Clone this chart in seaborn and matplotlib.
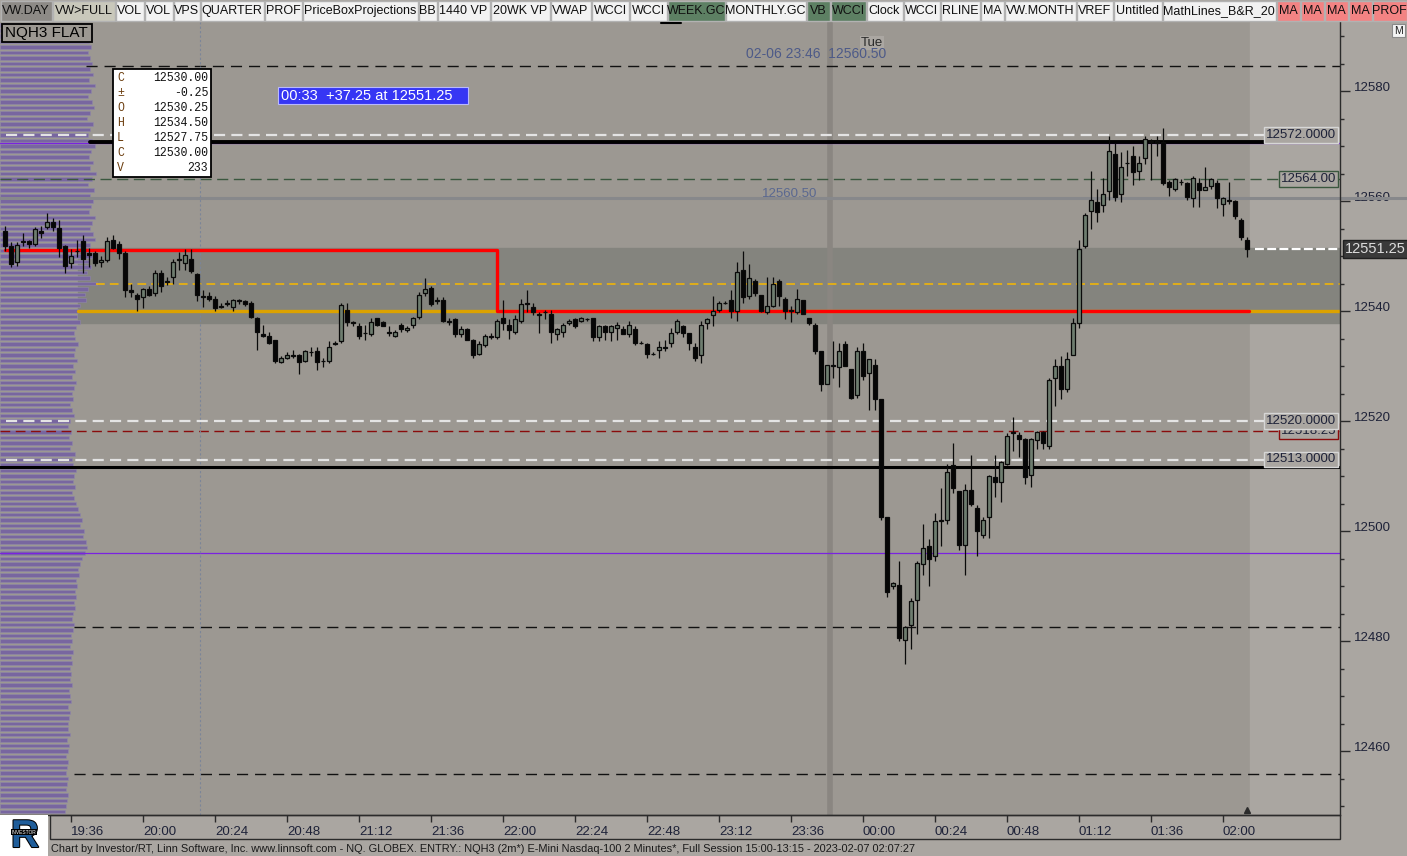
import numpy as np
import pandas as pd
import matplotlib
matplotlib.use("Agg")
import matplotlib.pyplot as plt
import matplotlib.transforms as mtransforms
from matplotlib.patches import Rectangle
from matplotlib.ticker import MultipleLocator, FuncFormatter
from matplotlib import patheffects
import seaborn as sns

# ---------------- data (NQH3, 2 minute bars) ----------------
bar_start = "2023-02-06 19:14"

opens = [
    12554.5, 12551.75, 12549.0, 12552.5, 12552.75, 12552.25, 12554.5, 12555.25, 12556.25, 12555.0,
    12551.75, 12548.75, 12551.0, 12552.75, 12550.5, 12550.5, 12549.0, 12549.25, 12553.0, 12552.25,
    12550.5, 12543.75, 12543.0, 12542.5, 12544.0, 12543.25, 12547.0, 12545.25, 12546.25, 12549.5,
    12548.75, 12549.5, 12546.75, 12542.75, 12542.75, 12542.25, 12541.0, 12541.5, 12540.75, 12541.75,
    12541.75, 12541.5, 12538.75, 12535.75, 12535.5, 12534.75, 12530.75, 12531.5, 12532.0, 12532.0,
    12531.0, 12532.5, 12532.75, 12531.0, 12531.0, 12534.0, 12534.5, 12540.25, 12538.0, 12537.25,
    12536.0, 12535.75, 12538.75, 12538.0, 12536.25, 12535.5, 12537.5, 12536.5, 12537.5, 12539.0,
    12543.25, 12544.25, 12541.75, 12542.0, 12538.0, 12538.5, 12535.75, 12536.75, 12534.75, 12532.25,
    12533.75, 12535.5, 12535.25, 12538.75, 12537.5, 12536.25, 12538.25, 12541.5, 12540.75, 12539.25,
    12539.75, 12539.5, 12535.75, 12536.25, 12537.75, 12538.5, 12538.25, 12538.5, 12538.75, 12535.25,
    12537.25, 12536.25, 12537.0, 12536.75, 12535.75, 12536.75, 12534.25, 12534.0, 12532.25, 12533.0,
    12533.5, 12534.25, 12536.25, 12537.25, 12536.0, 12533.5, 12532.0, 12537.75, 12539.25, 12540.25,
    12541.5, 12542.0, 12540.0, 12547.5, 12542.75, 12545.5, 12543.0, 12539.75, 12541.0, 12545.5,
    12542.25, 12540.0, 12539.75, 12542.0, 12538.75, 12537.5, 12532.75, 12526.75, 12530.25, 12529.75,
    12534.0, 12529.5, 12524.75, 12532.75, 12528.75, 12530.25, 12524.0, 12502.5, 12490.0, 12490.25,
    12480.25, 12483.0, 12487.5, 12494.0, 12497.25, 12495.5, 12501.75, 12502.0, 12512.0, 12507.25,
    12497.5, 12507.5, 12504.25, 12499.25, 12502.5, 12509.75, 12509.0, 12512.25, 12518.0, 12517.5,
    12516.75, 12510.25, 12516.5, 12518.0, 12515.5, 12527.75, 12530.0, 12525.75, 12532.0, 12537.75,
    12551.75, 12558.25, 12559.75, 12559.25, 12561.75, 12568.5, 12561.25, 12567.0, 12568.25, 12565.5,
    12567.75, 12571.0, 12571.0, 12570.75, 12563.5, 12562.25, 12563.5, 12563.25, 12560.5, 12563.25,
    12562.0, 12562.75, 12563.25, 12559.5, 12560.25, 12560.0, 12556.5, 12553.0,
]
highs = [
    12555.5, 12552.5, 12552.5, 12554.25, 12553.0, 12555.25, 12555.5, 12557.75, 12557.0, 12556.5,
    12552.0, 12551.25, 12553.0, 12553.75, 12551.5, 12551.0, 12550.0, 12553.5, 12553.75, 12552.75,
    12551.0, 12545.0, 12543.25, 12544.25, 12544.5, 12547.5, 12547.5, 12546.25, 12549.5, 12550.75,
    12551.25, 12551.25, 12547.0, 12543.75, 12543.5, 12542.75, 12541.5, 12542.0, 12542.25, 12542.25,
    12542.0, 12541.75, 12539.0, 12537.5, 12536.25, 12534.75, 12531.75, 12532.5, 12533.0, 12532.25,
    12533.0, 12533.5, 12533.5, 12531.5, 12534.5, 12534.5, 12541.5, 12541.5, 12538.25, 12537.75,
    12537.5, 12538.75, 12538.75, 12538.25, 12537.25, 12536.5, 12537.75, 12537.25, 12539.0, 12543.5,
    12546.0, 12544.5, 12542.5, 12542.5, 12538.75, 12538.75, 12537.25, 12537.0, 12535.0, 12534.5,
    12535.75, 12536.0, 12538.5, 12542.0, 12538.5, 12539.25, 12542.25, 12543.75, 12541.5, 12539.75,
    12540.25, 12540.25, 12537.0, 12537.75, 12538.5, 12538.75, 12539.0, 12538.75, 12538.75, 12537.5,
    12537.5, 12537.5, 12538.0, 12537.25, 12538.25, 12537.25, 12534.5, 12534.25, 12532.5, 12534.5,
    12534.75, 12537.0, 12538.5, 12537.5, 12536.0, 12534.25, 12538.25, 12538.75, 12542.75, 12541.75,
    12541.75, 12543.75, 12549.0, 12551.0, 12548.5, 12545.75, 12543.0, 12546.25, 12546.25, 12545.75,
    12542.5, 12541.0, 12544.0, 12542.0, 12538.75, 12537.75, 12532.75, 12530.25, 12534.5, 12534.25,
    12534.5, 12529.5, 12533.5, 12534.25, 12531.25, 12531.25, 12524.0, 12502.5, 12490.75, 12494.5,
    12482.75, 12487.75, 12494.5, 12501.25, 12498.5, 12503.25, 12507.75, 12512.25, 12516.0, 12507.25,
    12508.5, 12513.75, 12504.75, 12502.5, 12510.25, 12513.75, 12512.75, 12517.75, 12520.75, 12518.0,
    12517.0, 12517.0, 12518.25, 12518.25, 12527.75, 12531.25, 12531.75, 12532.5, 12538.75, 12553.0,
    12557.75, 12565.5, 12562.25, 12564.25, 12571.75, 12570.5, 12569.0, 12569.25, 12570.0, 12568.25,
    12571.75, 12571.25, 12571.75, 12573.25, 12563.75, 12564.25, 12564.0, 12563.5, 12564.5, 12564.25,
    12566.25, 12564.25, 12563.75, 12560.75, 12563.5, 12560.25, 12557.0, 12553.5,
]
lows = [
    12551.0, 12548.0, 12548.25, 12551.75, 12551.5, 12551.75, 12553.25, 12555.0, 12554.5, 12549.75,
    12547.0, 12547.75, 12549.75, 12547.0, 12548.0, 12548.25, 12548.0, 12549.0, 12551.25, 12549.5,
    12542.5, 12542.5, 12540.0, 12540.5, 12542.75, 12542.75, 12543.5, 12544.75, 12545.0, 12547.5,
    12547.5, 12547.0, 12541.75, 12540.75, 12541.75, 12540.0, 12540.5, 12541.0, 12540.0, 12541.25,
    12541.0, 12538.75, 12533.0, 12535.25, 12534.0, 12530.5, 12530.5, 12531.25, 12531.5, 12528.5,
    12530.75, 12531.75, 12529.25, 12529.75, 12530.5, 12533.75, 12534.25, 12537.25, 12537.25, 12535.0,
    12534.75, 12535.5, 12537.25, 12537.25, 12535.5, 12535.25, 12536.25, 12536.25, 12537.0, 12538.5,
    12542.75, 12541.0, 12541.25, 12538.0, 12537.5, 12535.25, 12535.25, 12534.75, 12531.5, 12532.0,
    12533.5, 12535.0, 12535.0, 12536.5, 12535.0, 12535.75, 12537.75, 12539.75, 12539.25, 12536.0,
    12538.5, 12534.25, 12534.75, 12535.25, 12537.5, 12537.0, 12538.0, 12538.25, 12534.5, 12534.5,
    12534.75, 12534.5, 12534.75, 12535.75, 12535.25, 12533.75, 12534.0, 12531.5, 12532.0, 12531.5,
    12532.75, 12533.5, 12535.75, 12535.25, 12533.0, 12531.0, 12530.5, 12536.75, 12537.25, 12539.75,
    12541.25, 12538.75, 12538.25, 12541.5, 12542.25, 12542.75, 12539.75, 12539.5, 12540.75, 12541.0,
    12538.5, 12538.0, 12539.5, 12539.5, 12537.5, 12532.25, 12525.5, 12526.75, 12527.75, 12526.25,
    12530.0, 12524.0, 12524.25, 12527.5, 12522.0, 12522.0, 12502.0, 12488.0, 12489.5, 12480.0,
    12475.75, 12478.5, 12481.25, 12492.0, 12490.0, 12494.5, 12497.25, 12501.25, 12507.0, 12496.5,
    12492.0, 12504.5, 12495.5, 12498.75, 12498.75, 12506.25, 12505.25, 12512.0, 12514.5, 12513.5,
    12508.5, 12508.0, 12515.0, 12515.0, 12515.0, 12522.75, 12524.0, 12525.25, 12532.0, 12537.0,
    12551.5, 12555.0, 12556.25, 12558.0, 12560.25, 12560.0, 12559.75, 12564.5, 12563.0, 12563.75,
    12566.75, 12563.75, 12568.25, 12563.0, 12561.0, 12561.75, 12563.0, 12560.25, 12559.0, 12559.0,
    12562.0, 12562.25, 12558.75, 12557.25, 12559.5, 12556.75, 12553.0, 12549.75,
]
closes = [
    12551.75, 12548.5, 12552.0, 12552.75, 12552.25, 12555.0, 12554.25, 12556.25, 12555.25, 12551.5,
    12548.25, 12550.0, 12551.0, 12549.5, 12550.25, 12548.75, 12549.25, 12552.75, 12551.5, 12550.5,
    12543.75, 12543.5, 12542.25, 12544.0, 12543.0, 12547.0, 12544.5, 12545.5, 12549.0, 12549.25,
    12550.25, 12547.25, 12543.0, 12542.5, 12542.25, 12540.5, 12540.75, 12541.25, 12542.0, 12542.0,
    12541.25, 12539.0, 12536.25, 12535.5, 12534.25, 12531.0, 12531.5, 12532.0, 12531.75, 12530.75,
    12532.75, 12532.5, 12530.75, 12531.0, 12533.5, 12534.25, 12541.0, 12538.0, 12537.75, 12535.5,
    12536.0, 12538.0, 12537.5, 12537.25, 12536.0, 12536.25, 12536.75, 12537.0, 12538.75, 12543.0,
    12544.0, 12541.25, 12542.0, 12538.25, 12538.25, 12535.75, 12536.75, 12534.75, 12532.0, 12534.0,
    12535.5, 12535.25, 12538.25, 12537.75, 12536.5, 12538.5, 12541.25, 12541.25, 12539.75, 12539.5,
    12539.75, 12536.25, 12536.75, 12537.5, 12538.25, 12537.25, 12538.75, 12538.5, 12535.25, 12537.25,
    12536.25, 12537.25, 12537.5, 12535.75, 12537.5, 12534.25, 12534.25, 12532.25, 12532.25, 12533.5,
    12533.25, 12536.0, 12538.25, 12536.0, 12534.25, 12531.5, 12537.5, 12538.5, 12540.0, 12541.5,
    12541.5, 12540.0, 12547.0, 12542.5, 12546.0, 12543.25, 12540.0, 12541.0, 12545.0, 12542.75,
    12540.0, 12540.25, 12542.25, 12539.5, 12537.75, 12532.75, 12526.75, 12530.25, 12530.0, 12532.75,
    12530.0, 12524.25, 12532.75, 12528.25, 12531.25, 12524.0, 12502.5, 12489.0, 12490.5, 12480.5,
    12482.5, 12487.25, 12494.25, 12497.0, 12495.0, 12501.75, 12502.0, 12510.75, 12507.75, 12497.5,
    12507.5, 12505.0, 12500.0, 12502.0, 12510.0, 12509.0, 12512.5, 12517.25, 12517.75, 12516.75,
    12509.75, 12516.75, 12518.0, 12516.0, 12527.5, 12530.0, 12525.75, 12531.25, 12537.75, 12551.25,
    12557.5, 12560.25, 12558.0, 12561.25, 12569.0, 12560.75, 12566.25, 12567.0, 12565.25, 12567.0,
    12571.25, 12570.75, 12570.5, 12563.25, 12562.5, 12564.0, 12563.5, 12560.75, 12564.25, 12562.0,
    12562.5, 12564.0, 12560.5, 12560.5, 12560.0, 12557.25, 12553.5, 12551.25,
]

cursor_bar = 138          # bar under the crosshair, shown in the info box
cursor_volume = 233
session_mark = "2023-02-06 20:19"

# volume profile on the left, one row per point, from the top price down
profile_top = 12592
profile_vol = [
    88, 90, 86, 89, 91, 88, 90, 92,
    90, 93, 89, 95, 91, 88, 92, 94, 90, 87,
    93, 90, 88, 92, 95, 91, 89, 93, 90, 96,
    92, 88, 94, 90, 93, 91, 89, 95, 92, 90,
    93, 95, 90, 88, 92, 89, 91, 87, 90, 97,
    88, 85, 86, 80, 78, 77, 80, 76, 74, 75,
    78, 75, 74, 77, 73, 75, 72, 76, 74, 72,
    73, 70, 72, 74, 70, 68, 71, 69, 72, 70,
    75, 72, 73, 76, 74, 73, 75, 72, 74, 76,
    78, 80, 82, 80, 84, 83, 86, 87, 85, 82,
    80, 78, 79, 76, 77, 75, 76, 74, 75, 73,
    72, 74, 73, 71, 72, 70, 73, 71, 72, 70,
    71, 70, 72, 69, 70, 71, 68, 70, 69, 68,
    68, 70, 67, 69, 68, 66, 68, 67, 66, 68,
    67, 66, 68, 67, 66, 65,
]

# reference levels
round_levels = [12572.0, 12520.0, 12513.0]
weekly_level = 12564.0
pivot_level = 12518.25
grey_level = 12560.50
black_levels = [12570.8, 12511.6]
purple_levels = [12570.5, 12496.0]
dashed_levels = [12584.5, 12482.5, 12455.75]
va_low, va_high = 12537.75, 12551.5
va_mid = 12545.0
poc_level = 12540.0
red_levels = [12551.1, 12540.0]
red_switch = 82

tab_labels = ["VW.DAY", "VW>FULL", "VOL", "VOL", "VPS", "QUARTER", "PROF", "PriceBoxProjections",
              "BB", "1440 VP", "20WK VP", "VWAP", "WCCI", "WCCI", "WEEK.GC", "MONTHLY.GC", "VB",
              "WCCI", "Clock", "WCCI", "RLINE", "MA", "VW.MONTH", "VREF", "Untitled",
              "MathLines_B&R_20", "MA", "MA", "MA", "MA", "PROF"]
footer = ("Chart by Investor/RT, Linn Software, Inc. www.linnsoft.com - NQ. GLOBEX. ENTRY.: NQH3 (2m*) "
          "E-Mini Nasdaq-100 2 Minutes*, Full Session 15:00-13:15 - 2023-02-07 02:07:27")

# ---------------- colours ----------------
BG = '#9c9892'
FUTURE = '#aaa6a1'
BAND = '#84847e'
UP = '#6e7d6f'
DOWN = '#060606'
PURPLE = '#7866a0'
TXT = '#1e2238'

# ---------------- layout ----------------
W, H, DPI = 1407, 856, 100
tab_edges = [0, 52, 115, 144, 173, 200, 264, 302, 418, 437, 490, 550, 591, 629, 667, 725, 806,
             830, 866, 903, 940, 980, 1004, 1076, 1113, 1162, 1276, 1300, 1324, 1348, 1372, 1407]
tab_face = ['#f2f2f2'] * len(tab_labels)
tab_face[0] = '#8d8a86'
tab_face[1] = '#c9c8bb'
for k in (14, 16, 17):
    tab_face[k] = '#5d8063'
for k in range(26, 31):
    tab_face[k] = '#f38383'

sns.set_style("white")
plt.rcParams['font.family'] = ['Liberation Sans', 'DejaVu Sans']


def fig_box(x0, y0, x1, y1):
    return [x0 / W, 1 - y1 / H, (x1 - x0) / W, (y1 - y0) / H]


def frac(px):
    return px / 1340


PX_PER_PT = 5.5
ylim = (12560 - 614 / PX_PER_PT, 12560 + 179 / PX_PER_PT)
xlim = (-0.83, 222.5)

df = pd.DataFrame({'open': opens, 'high': highs, 'low': lows, 'close': closes})
df['time'] = pd.date_range(bar_start, periods=len(df), freq='2min')
df['bar'] = np.arange(len(df))
last = int(df['bar'].iloc[-1])

fig = plt.figure(figsize=(W / DPI, H / DPI), dpi=DPI, facecolor=FUTURE)
plot_rect = fig_box(0, 22, 1340, 815)

# background, future area and value-area band
ax_bg = fig.add_axes(plot_rect, zorder=0)
ax_bg.set_xlim(xlim)
ax_bg.set_ylim(ylim)
ax_bg.axis('off')
ax_bg.add_patch(Rectangle((0, 0), 1, 1, transform=ax_bg.transAxes, color=BG))
ax_bg.axvspan(last + 0.5, xlim[1], color=FUTURE)
ax_bg.axhspan(va_low, va_high, xmin=frac(78), color=BAND)
ax_bg.axvline(cursor_bar - 0.5, color='#8a8681', lw=4)

# volume profile
ax_p = fig.add_axes(plot_rect, zorder=1)
ax_p.set_xlim(0, 1340)
ax_p.set_ylim(ylim)
ax_p.axis('off')
prof_price = profile_top - np.arange(len(profile_vol))
ax_p.barh(prof_price, profile_vol, height=0.6, left=0, color=PURPLE,
          edgecolor='#9088a8', linewidth=0.4)

# main price axes
ax = fig.add_axes(plot_rect, zorder=2)
ax.set_facecolor('none')

ax.axhline(dashed_levels[0], xmin=frac(86), color='#111111', lw=1, ls=(0, (8, 5)), zorder=2)
for lv in dashed_levels[1:]:
    ax.axhline(lv, xmin=frac(74), color='#111111', lw=1, ls=(0, (8, 5)), zorder=2)
for lv in purple_levels:
    ax.axhline(lv, color='#7a22e0', lw=0.9, zorder=2)
ax.axhline(black_levels[0], xmin=frac(90), xmax=frac(1268), color='black', lw=2.8, zorder=2.4)
ax.axhline(black_levels[1], color='black', lw=2.2, zorder=2.4)
ax.axhline(grey_level, xmax=W / 1340, color='#87888b', lw=2.2, zorder=2, clip_on=False)
ax.axhline(weekly_level, color='#3a573e', lw=1, ls=(0, (8, 4)), zorder=2)
ax.axhline(pivot_level, color='#8a0c0c', lw=1, ls=(0, (7, 4)), zorder=2)
for lv in round_levels:
    ax.axhline(lv, xmin=frac(6), color='#e4e4e4', lw=1.6, ls=(0, (5, 2.8)), zorder=2.2)
ax.axhline(va_mid, xmin=frac(96), color='#e0ae1a', lw=1.4, ls=(0, (4.5, 2.6)), zorder=2)
ax.axhline(poc_level, xmin=frac(78), color='#dca200', lw=2.4, zorder=2.3)
sns.lineplot(x=[0, red_switch, last + 0.3], y=[red_levels[0], red_levels[1], red_levels[1]],
             estimator=None, sort=False, drawstyle='steps-post', color='#ff0000', lw=2.4,
             ax=ax, zorder=2.5, legend=False)
ax.axhline(closes[-1], xmin=frac(1255), color='white', lw=1.6, ls=(0, (4, 1.5)), zorder=3)

mark_pos = (pd.Timestamp(session_mark) - df['time'].iloc[0]) / pd.Timedelta('2min')
ax.axvline(mark_pos, color='#7b8598', lw=0.8, ls=(0, (2, 2)), zorder=2)

# candles
up = df['close'] >= df['open']
ax.vlines(df['bar'], df['low'], df['high'], color='#0a0a0a', lw=0.9, zorder=4)
ax.bar(df['bar'], (df['close'] - df['open']).abs(), bottom=df[['open', 'close']].min(axis=1),
       width=0.8, color=np.where(up, UP, DOWN), edgecolor='#0a0a0a', linewidth=0.9, zorder=5)

yb = mtransforms.blended_transform_factory(ax.transAxes, ax.transData)


def level_tag(price, text, edge, zo):
    ax.text(frac(1336), price, text, transform=yb, ha='right', va='center', fontsize=9.5,
            color=TXT, zorder=zo, clip_on=False,
            bbox=dict(boxstyle='square,pad=0.15', fc=FUTURE, ec=edge, lw=1))


level_tag(round_levels[0], f"{round_levels[0]:.4f}", '#d6d6d6', 6)
level_tag(weekly_level, f"{weekly_level:.2f}", '#3a573e', 6)
level_tag(pivot_level, f"{pivot_level:.2f}", '#8a0c0c', 6)
level_tag(round_levels[1], f"{round_levels[1]:.4f}", '#d6d6d6', 7)
level_tag(round_levels[2], f"{round_levels[2]:.4f}", '#d6d6d6', 7)
ax.text(frac(1345), closes[-1], f"{closes[-1]:.2f}", transform=yb, ha='left', va='center',
        fontsize=10.5, color='#dcdcdc', zorder=8, clip_on=False,
        bbox=dict(boxstyle='square,pad=0.12', fc='#3a3a3a', ec='#202020', lw=1))
ax.plot([last], [0.006], marker='^', ms=5, color='#2b2b2b', clip_on=False,
        transform=mtransforms.blended_transform_factory(ax.transData, ax.transAxes), zorder=6)

ax.set_xlim(xlim)
ax.set_ylim(ylim)
for side in ['top', 'left']:
    ax.spines[side].set_visible(False)
for side in ['right', 'bottom']:
    ax.spines[side].set_color('#2b2b2b')
    ax.spines[side].set_linewidth(1)
ax.set_xlabel('')
ax.set_ylabel('')

ax.yaxis.set_major_locator(MultipleLocator(20))
ax.yaxis.set_minor_locator(MultipleLocator(5))
ax.yaxis.set_major_formatter(FuncFormatter(lambda v, _: f"{v:.0f}"))
ax.tick_params(axis='y', which='both', left=False, right=True, labelleft=False, labelright=True,
               colors='#2b2b2b', labelcolor=TXT, labelsize=9.5, pad=2.5)
ax.tick_params(axis='y', which='major', length=7.5, width=1)
ax.tick_params(axis='y', which='minor', length=3, width=1)
for t in ax.yaxis.get_major_ticks():
    t.label2.set_va('baseline')

tick_times = pd.date_range("2023-02-06 19:36", "2023-02-07 02:00", freq="24min")
tick_pos = (tick_times - df['time'].iloc[0]) / pd.Timedelta('2min')
ax.set_xticks(tick_pos)
ax.set_xticklabels(tick_times.strftime("%H:%M"), ha='left')
ax.tick_params(axis='x', bottom=True, length=5, width=1, colors='#2b2b2b', labelcolor=TXT,
               labelsize=9.5, pad=3)

# ---------------- overlay in pixel coordinates ----------------
ov = fig.add_axes([0, 0, 1, 1], zorder=3)
ov.set_xlim(0, W)
ov.set_ylim(H, 0)
ov.axis('off')

for k, lab in enumerate(tab_labels):
    x0, x1 = tab_edges[k], tab_edges[k + 1]
    ov.add_patch(Rectangle((x0 + 0.5, 0.5), x1 - x0 - 1, 20, fc=tab_face[k], ec='#b2b2b2', lw=1))
    ov.text((x0 + x1) / 2, 11, lab, ha='center', va='center', fontsize=9, color='#101010')
ov.plot([661, 681], [23, 23], color='black', lw=1.5)

ov.add_patch(Rectangle((2, 23.5), 90, 18.5, fc=BG, ec='black', lw=1.3))
ov.text(5, 33, "NQH3 FLAT", fontsize=11, va='center', color='black')

c = df.loc[cursor_bar]
prev_c = df.loc[cursor_bar - 1, 'close']
rows = [('C', f"{c['close']:.2f}"), ('±', f"{c['close'] - prev_c:.2f}"), ('O', f"{c['open']:.2f}"),
        ('H', f"{c['high']:.2f}"), ('L', f"{c['low']:.2f}"), ('C', f"{c['close']:.2f}"),
        ('V', str(cursor_volume))]
ov.add_patch(Rectangle((113, 69), 98, 108, fc='white', ec='black', lw=1.3))
for k, (a, b) in enumerate(rows):
    y = 77.5 + 15 * k
    ov.text(117, y, a, family='Liberation Mono', fontsize=8.3, color='#6b3d0e', va='center')
    ov.text(208, y, b, family='Liberation Mono', fontsize=8.3, color='#111111', va='center', ha='right')

ov.add_patch(Rectangle((278, 87), 190, 17, fc='#3636f4', ec='#b9b9ff', lw=0.8))
ov.text(281, 96, f"00:33  +37.25 at {closes[-1]:.2f}", fontsize=10.5, color='white', va='center')

ov.text(872, 43, "Tue", fontsize=9.5, ha='center', va='center', color='#2b2b2b',
        bbox=dict(boxstyle='square,pad=0.1', fc='#aba7a2', ec='none'))
ov.text(746, 53.5, f"02-06 23:46  {grey_level:.2f}", fontsize=10, color='#4d5a88', va='center')
ov.text(762, 194, f"{grey_level:.2f}", fontsize=9.5, color='#5a6890', va='center')

ov.add_patch(Rectangle((1392, 24), 13, 13, fc='#f4f4f4', ec='#8a8a8a', lw=0.8))
ov.text(1398.5, 30.5, "M", fontsize=7.5, ha='center', va='center', color='#202020')

ov.add_patch(Rectangle((50, 815), 1290, 24, fc='none', ec='#2b2b2b', lw=1))
ov.add_patch(Rectangle((0, 815), 48, 41, fc='white', ec='none'))
ov.text(25, 837, "R", fontsize=28, fontweight='bold', color='#1f5d9a', ha='center', va='center',
        path_effects=[patheffects.withStroke(linewidth=1.5, foreground='black')])
ov.text(24, 832, "INVESTOR", fontsize=3.5, color='white', ha='center', va='center',
        bbox=dict(boxstyle='square,pad=0.15', fc='black', ec='none'))
ov.text(51, 848.5, footer, fontsize=7.9, va='center', color='#1a1a1a')

fig.savefig('out.png', dpi=DPI, facecolor=fig.get_facecolor())
